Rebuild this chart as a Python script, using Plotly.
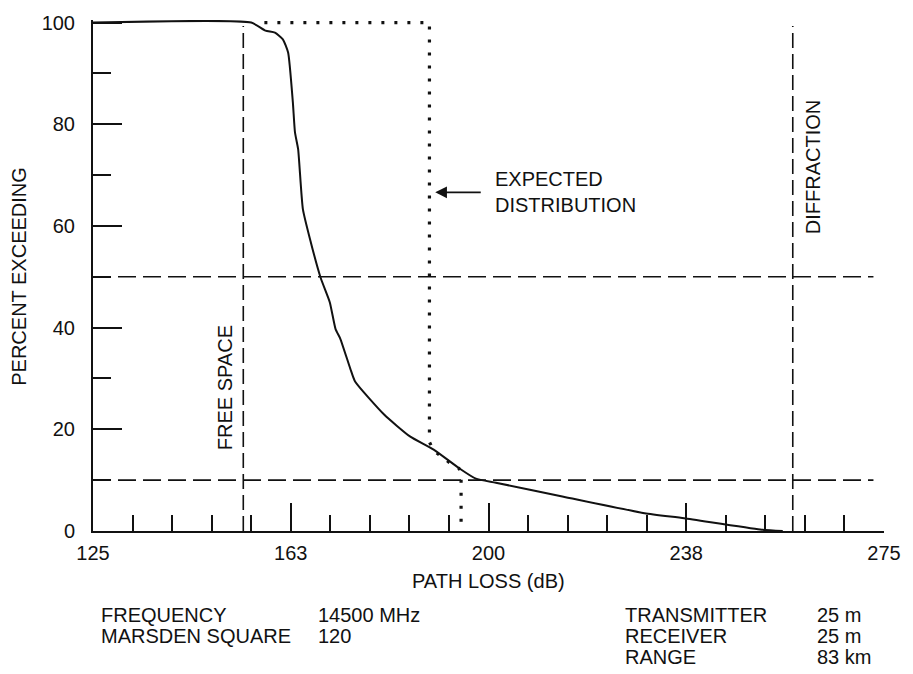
import numpy as np
import plotly.graph_objects as go

# Measured path-loss distribution (percent of time the loss is exceeded)
loss_db = [125, 155.0, 157.7, 159.5, 161.0, 162.0, 162.9, 163.3, 163.9, 164.8,
           166.3, 168.2, 169.9, 171.0, 171.9, 173.8, 174.7, 180.2, 185.1, 189.6,
           194.5, 197.6, 201.4, 214.0, 229.6, 237.1, 251.5, 255.8]
pct_exceeding = [100, 100, 98.4, 98.0, 96.7, 94.1, 84.3, 78.4, 75.1, 63.3,
                 56.8, 49.7, 45.0, 39.7, 37.8, 31.9, 29.4, 22.9, 18.6, 16.0,
                 12.3, 10.3, 9.5, 6.8, 3.5, 2.5, 0.3, 0]

# Expected distribution (dotted)
exp_loss_db = [157.5, 188.8, 188.8, 189.6, 191.1, 192.8, 194.4, 194.8, 194.8]
exp_pct = [100, 100, 17.5, 15.8, 14.6, 13.3, 12.3, 11.5, 0]

# Reference levels
free_space_db = 153.5
diffraction_db = 257.7
ref_pct_levels = [50, 10]

# Axis ticks
x_tick_vals = [125, 162.5, 200, 237.5, 275]
x_tick_text = ["125", "163", "200", "238", "275"]
x_minor_vals = list(np.arange(125, 275.1, 7.5))
y_tick_vals = [0, 20, 40, 60, 80, 100]
y_minor_vals = [10, 30, 50, 70, 90]

# Link parameters printed under the chart
left_labels = ["FREQUENCY", "MARSDEN SQUARE"]
left_values = ["14500 MHz", "120"]
right_labels = ["TRANSMITTER", "RECEIVER", "RANGE"]
right_values = ["25 m", "25 m", "83 km"]

INK = "#111111"
FONT = "Liberation Sans, Arial, Helvetica, sans-serif"
W, H = 913, 674
ML, MR, MT, MB = 93, 21, 18, 143
PW, PH = W - ML - MR, H - MT - MB


def px(xp):
    return (xp - ML) / PW


def py(yp):
    return (H - MB - yp) / PH


fig = go.Figure()

# Horizontal reference levels
for lvl in ref_pct_levels:
    fig.add_trace(go.Scatter(x=[125, 273], y=[lvl, lvl], mode="lines",
                             line=dict(color=INK, width=1.6, dash="18px,7px"),
                             hoverinfo="skip", showlegend=False))

# Free-space and diffraction losses
for xv in [free_space_db, diffraction_db]:
    fig.add_trace(go.Scatter(x=[xv, xv], y=[0, 99.3], mode="lines",
                             line=dict(color=INK, width=1.6, dash="15px,6px"),
                             hoverinfo="skip", showlegend=False))

fig.add_trace(go.Scatter(x=loss_db, y=pct_exceeding, mode="lines",
                         line=dict(color=INK, width=2, shape="spline",
                                   smoothing=0.5),
                         hoverinfo="skip", showlegend=False))

fig.add_trace(go.Scatter(x=exp_loss_db, y=exp_pct, mode="lines",
                         line=dict(color=INK, width=3.2, dash="3px,10px"),
                         hoverinfo="skip", showlegend=False))

ann = []
# Arrow toward the expected distribution
ann.append(dict(x=189.9, y=66.6, xref="x", yref="y", text=" ", showarrow=True,
                ax=50, ay=0, arrowhead=2, arrowsize=1.3, arrowwidth=1.8,
                arrowcolor=INK, standoff=0))
ann.append(dict(x=px(497), y=py(191), xref="paper", yref="paper",
                text="EXPECTED<br>DISTRIBUTION", showarrow=False,
                xanchor="left", yanchor="middle", align="left"))
ann.append(dict(x=px(226), y=py(387), xref="paper", yref="paper",
                text="FREE SPACE", textangle=-90, showarrow=False,
                xanchor="center", yanchor="middle"))
ann.append(dict(x=px(821), y=py(166), xref="paper", yref="paper",
                text="DIFFRACTION", textangle=-90, showarrow=False,
                xanchor="center", yanchor="middle"))
ann.append(dict(x=px(18), y=py(275), xref="paper", yref="paper",
                text="PERCENT EXCEEDING", textangle=-90, showarrow=False,
                xanchor="center", yanchor="middle"))
ann.append(dict(x=px(492), y=py(581), xref="paper", yref="paper",
                text="PATH LOSS (dB)", showarrow=False,
                xanchor="center", yanchor="middle"))

row_y = [615, 636, 657]
for i, (lab, val) in enumerate(zip(left_labels, left_values)):
    ann.append(dict(x=px(99), y=py(row_y[i]), xref="paper", yref="paper",
                    text=lab, showarrow=False, xanchor="left", yanchor="middle"))
    ann.append(dict(x=px(318), y=py(row_y[i]), xref="paper", yref="paper",
                    text=val, showarrow=False, xanchor="left", yanchor="middle"))
for i, (lab, val) in enumerate(zip(right_labels, right_values)):
    ann.append(dict(x=px(628), y=py(row_y[i]), xref="paper", yref="paper",
                    text=lab, showarrow=False, xanchor="left", yanchor="middle"))
    ann.append(dict(x=px(822), y=py(row_y[i]), xref="paper", yref="paper",
                    text=val, showarrow=False, xanchor="left", yanchor="middle"))

fig.update_layout(
    width=W, height=H,
    margin=dict(l=ML, r=MR, t=MT, b=MB, pad=0),
    paper_bgcolor="white", plot_bgcolor="white",
    font=dict(family=FONT, size=20, color=INK),
    annotations=ann,
    xaxis=dict(range=[125, 275], showgrid=False, zeroline=False,
               showline=True, linecolor=INK, linewidth=2,
               tickmode="array", tickvals=x_tick_vals, ticktext=x_tick_text,
               ticks="inside", ticklen=28, tickwidth=2, tickcolor=INK,
               ticklabelstandoff=3,
               minor=dict(tickmode="array", tickvals=x_minor_vals,
                          ticks="inside", ticklen=16, tickwidth=2,
                          tickcolor=INK, showgrid=False)),
    yaxis=dict(range=[0, 100.5], showgrid=False, zeroline=False,
               showline=True, linecolor=INK, linewidth=2,
               tickmode="array", tickvals=y_tick_vals,
               ticks="inside", ticklen=29, tickwidth=2, tickcolor=INK,
               ticklabelstandoff=12,
               minor=dict(tickmode="array", tickvals=y_minor_vals,
                          ticks="inside", ticklen=18, tickwidth=2,
                          tickcolor=INK, showgrid=False)),
)

fig.write_html("out.html")
